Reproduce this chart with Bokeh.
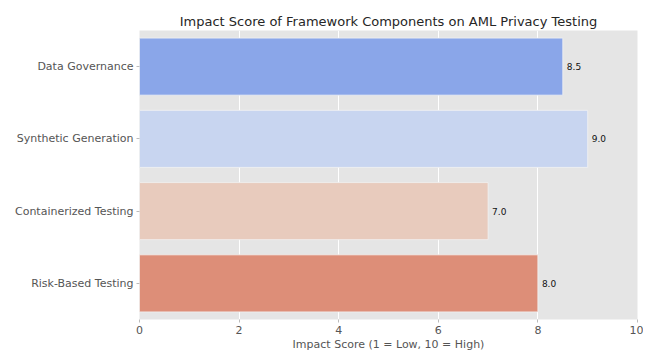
from bokeh.plotting import figure
from bokeh.models import ColumnDataSource, FactorRange, Range1d, FixedTicker, LabelSet
from bokeh.core.properties import value
from bokeh.embed import file_html
from bokeh.resources import INLINE

components = ["Data Governance", "Synthetic Generation", "Containerized Testing", "Risk-Based Testing"]
scores = [8.5, 9.0, 7.0, 8.0]
colors = ["#8aa6e9", "#c8d5f0", "#e8cbbd", "#dd8e78"]
x_ticks = [0, 2, 4, 6, 8, 10]

src = ColumnDataSource(dict(
    comp=components, score=scores, color=colors,
    label=[f"{s:.1f}" for s in scores],
))

p = figure(width=643, height=353, output_backend="svg", toolbar_location=None,
           y_range=FactorRange(factors=list(reversed(components))),
           x_range=Range1d(0, 10),
           title="Impact Score of Framework Components on AML Privacy Testing",
           min_border_left=139, min_border_right=6, min_border_top=30, min_border_bottom=0)

p.hbar(y="comp", right="score", left=0, height=0.79, color="color", line_color="#f2f2f2",
       line_width=0.8, source=src)

labels = LabelSet(x="score", y="comp", text="label", source=src, x_offset=4,
                  text_baseline="middle", text_font_size="9px", text_color="#111111",
                  text_font=value("DejaVu Sans"))
p.add_layout(labels)

p.title.text_font = "DejaVu Sans"
p.title.text_font_size = "13px"
p.title.text_font_style = "normal"
p.title.text_color = "#262626"
p.title.align = "center"
p.title.standoff = 4

p.background_fill_color = "#e5e5e5"
p.border_fill_color = "white"
p.outline_line_color = None

p.xgrid.grid_line_color = "white"
p.xgrid.grid_line_width = 1
p.ygrid.grid_line_color = None
p.xaxis.ticker = FixedTicker(ticks=x_ticks)

for ax in (p.xaxis[0], p.yaxis[0]):
    ax.axis_line_color = None
    ax.major_tick_line_color = "#bbbbbb"
    ax.major_tick_out = 3
    ax.major_tick_in = 0
    ax.minor_tick_line_color = None
    ax.major_label_text_font = "DejaVu Sans"
    ax.major_label_text_font_size = "11px"
    ax.major_label_text_color = "#555555"
    ax.major_label_standoff = 3

p.xaxis.axis_label = "Impact Score (1 = Low, 10 = High)"
p.xaxis.axis_label_text_font = "DejaVu Sans"
p.xaxis.axis_label_text_font_size = "11px"
p.xaxis.axis_label_text_font_style = "normal"
p.xaxis.axis_label_text_color = "#555555"
p.xaxis.axis_label_standoff = 1

open("out.html", "w").write(file_html(p, INLINE))
